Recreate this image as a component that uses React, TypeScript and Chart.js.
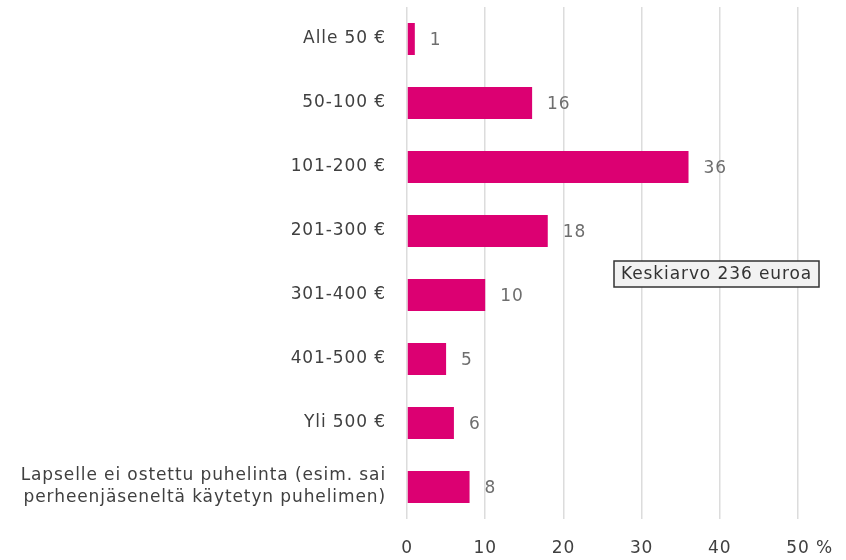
import React, { useEffect, useRef } from "react";
import { Chart, registerables } from "chart.js";

Chart.register(...registerables);

const categories: (string | string[])[] = [
  "Alle 50 €",
  "50-100 €",
  "101-200 €",
  "201-300 €",
  "301-400 €",
  "401-500 €",
  "Yli 500 €",
  ["Lapselle ei ostettu puhelinta (esim. sai", "perheenjäseneltä käytetyn puhelimen)"],
];
const values: number[] = [1, 16, 36, 18, 10, 5, 6, 8];
const xTicks: number[] = [0, 10, 20, 30, 40, 50];
const annotationText = "Keskiarvo 236 euroa";

const FONT = "'DejaVu Sans', sans-serif";
const FS = 17;
const LS = "0.9px";
const BAR = "#DC0072";

export default function App() {
  const ref = useRef<HTMLCanvasElement>(null);
  useEffect(() => {
    if (!ref.current) return;
    const setLS = (chart: any) => {
      try {
        chart.ctx.letterSpacing = LS;
      } catch (e) {}
    };
    const spacingPlugin = {
      id: "spacing",
      beforeInit: setLS,
      beforeUpdate: setLS,
      beforeLayout: setLS,
      beforeDraw: setLS,
    };
    const labelsPlugin = {
      id: "extras",
      afterDatasetsDraw(chart: any) {
        const ctx = chart.ctx;
        const meta = chart.getDatasetMeta(0);
        ctx.save();
        ctx.letterSpacing = LS;
        ctx.font = `${FS}px ${FONT}`;
        ctx.fillStyle = "#6e6e6e";
        ctx.textAlign = "left";
        ctx.textBaseline = "middle";
        meta.data.forEach((el: any, i: number) => {
          ctx.fillText(String(values[i]), el.x + 15, el.y + 2);
        });
        const xs = chart.scales.x;
        const lastX = xs.getPixelForValue(xTicks[xTicks.length - 1]);
        ctx.fillStyle = "#404040";
        const w50 = ctx.measureText(String(xTicks[xTicks.length - 1])).width;
        ctx.fillText(" %", lastX + w50 / 2, 549);
        const bx = 614, by = 261, bh = 26, bw = 205;
        ctx.fillStyle = "#f2f2f2";
        ctx.fillRect(bx, by, bw, bh);
        ctx.strokeStyle = "#333333";
        ctx.lineWidth = 1.5;
        ctx.strokeRect(bx, by, bw, bh);
        ctx.fillStyle = "#333333";
        ctx.fillText(annotationText, bx + 7, by + bh / 2 + 1);
        ctx.restore();
      },
    };
    const chart = new Chart(ref.current, {
      type: "bar",
      data: {
        labels: categories,
        datasets: [
          {
            data: values,
            backgroundColor: BAR,
            barPercentage: 0.5,
            categoryPercentage: 1,
          },
        ],
      },
      options: {
        indexAxis: "y",
        animation: false,
        responsive: false,
        maintainAspectRatio: false,
        layout: { padding: { top: 7, right: 48, left: 0, bottom: 0 } },
        plugins: { legend: { display: false }, tooltip: { enabled: false } },
        scales: {
          x: {
            min: 0,
            max: 50,
            afterBuildTicks: (s: any) => {
              s.ticks = xTicks.map((v) => ({ value: v }));
            },
            afterFit: (s: any) => {
              s.height = 41;
              s.paddingLeft = 0;
              s.paddingRight = 0;
            },
            grid: { color: "#dcdcdc", lineWidth: 1.5, drawTicks: false },
            border: { display: false },
            ticks: {
              padding: 19,
              color: "#404040",
              font: { family: FONT, size: FS },
              maxRotation: 0,
            },
          },
          y: {
            afterFit: (s: any) => {
              s.width = 407;
              s.paddingTop = 0;
              s.paddingBottom = 0;
            },
            grid: { display: false, drawTicks: false },
            border: { display: false },
            ticks: {
              padding: 21,
              color: "#404040",
              font: { family: FONT, size: FS, lineHeight: 1.3 },
            },
          },
        },
      },
      plugins: [spacingPlugin, labelsPlugin],
    });
    return () => chart.destroy();
  }, []);
  return (
    <div style={{ position: "absolute", left: 0, top: 0, width: 846, height: 560 }}>
      <canvas ref={ref} width={846} height={560} style={{ display: "block" }} />
    </div>
  );
}
